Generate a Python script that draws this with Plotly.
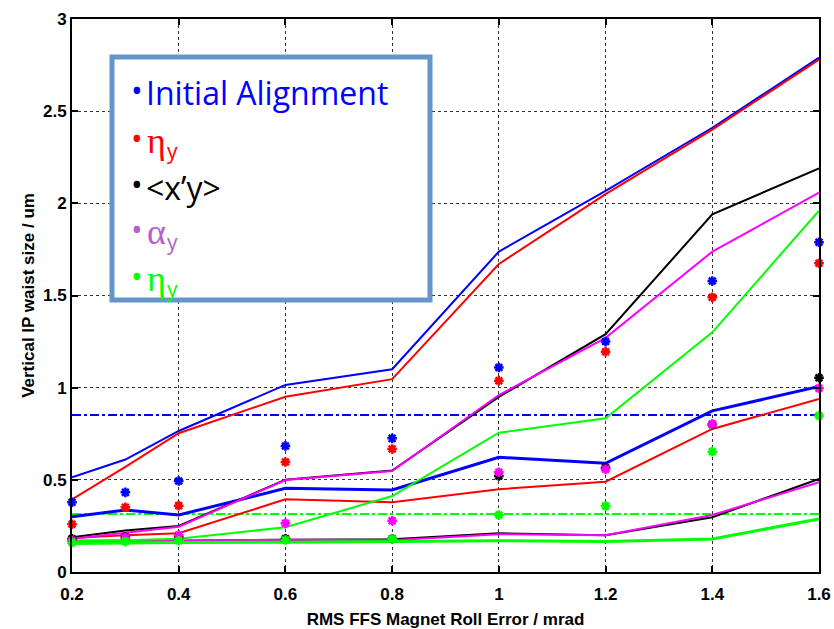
import plotly.graph_objects as go

# RMS roll error of the final-focus magnets (mrad)
roll_err = [0.2, 0.3, 0.4, 0.6, 0.8, 1.0, 1.2, 1.4, 1.6]

# Upper envelope curves
blue_hi = [0.514, 0.61, 0.765, 1.015, 1.10, 1.738, 2.067, 2.41, 2.79]
red_hi = [0.394, 0.57, 0.753, 0.951, 1.046, 1.671, 2.05, 2.40, 2.78]
black_hi = [0.188, 0.225, 0.25, 0.50, 0.55, 0.95, 1.29, 1.94, 2.19]
magenta_hi = [0.18, 0.215, 0.246, 0.499, 0.548, 0.96, 1.27, 1.738, 2.058]
green_hi = [0.17, 0.172, 0.18, 0.243, 0.412, 0.756, 0.834, 1.30, 1.96]

# Middle curves
blue_mid = [0.30, 0.336, 0.309, 0.454, 0.445, 0.622, 0.59, 0.874, 1.006]
red_mid = [0.185, 0.20, 0.21, 0.394, 0.378, 0.449, 0.49, 0.776, 0.939]

# Lower envelope curves
black_lo = [0.17, 0.17, 0.17, 0.175, 0.177, 0.21, 0.20, 0.297, 0.505]
magenta_lo = [0.165, 0.168, 0.168, 0.175, 0.172, 0.205, 0.199, 0.309, 0.487]
green_lo = [0.155, 0.158, 0.16, 0.162, 0.165, 0.17, 0.165, 0.179, 0.288]

# Mean waist sizes (asterisk markers)
blue_pts = [0.378, 0.432, 0.494, 0.684, 0.725, 1.109, 1.25, 1.579, 1.789]
red_pts = [0.259, 0.351, 0.36, 0.597, 0.667, 1.038, 1.195, 1.49, 1.675]
black_pts = [0.18, 0.19, 0.19, 0.18, 0.18, 0.521, 0.566, 0.80, 1.054]
magenta_pts = [0.17, 0.186, 0.20, 0.264, 0.278, 0.541, 0.557, 0.803, 0.997]
green_pts = [0.16, 0.165, 0.17, 0.174, 0.179, 0.309, 0.358, 0.653, 0.848]

# Reference levels (dash-dot)
blue_ref = 0.852
green_ref = 0.315

# Legend entries: (main text, subscript, colour, greek?)
legend_rows = [
    ("Initial Alignment", "", "#0000ff", False),
    ("η", "y", "#ff0000", True),
    ("<x’y>", "", "#000000", False),
    ("α", "y", "#b660cd", True),
    ("η", "y", "#00ff00", True),
]
legend_row_y = [93, 141, 187, 232, 279]

BLUE, RED, BLACK, MAGENTA, GREEN = "#0000ff", "#ff0000", "#000000", "#ff00ff", "#00ff00"

fig = go.Figure()

def add_line(y, color, width):
    fig.add_trace(go.Scatter(x=roll_err, y=y, mode="lines",
                             line=dict(color=color, width=width), showlegend=False))

# Reference levels drawn first
fig.add_trace(go.Scatter(x=[roll_err[0], roll_err[-1]], y=[blue_ref, blue_ref], mode="lines",
                         line=dict(color=BLUE, width=2, dash="dashdot"), showlegend=False))
fig.add_trace(go.Scatter(x=[roll_err[0], roll_err[-1]], y=[green_ref, green_ref], mode="lines",
                         line=dict(color=GREEN, width=2, dash="dashdot"), showlegend=False))

add_line(blue_hi, BLUE, 2)
add_line(blue_mid, BLUE, 3)
add_line(red_hi, RED, 2)
add_line(red_mid, RED, 2)
add_line(black_hi, BLACK, 2)
add_line(black_lo, BLACK, 2)
add_line(magenta_hi, MAGENTA, 2)
add_line(magenta_lo, MAGENTA, 2)
add_line(green_hi, GREEN, 2)
add_line(green_lo, GREEN, 3)

for pts, color in [(blue_pts, BLUE), (red_pts, RED), (black_pts, BLACK),
                   (magenta_pts, MAGENTA), (green_pts, GREEN)]:
    fig.add_trace(go.Scatter(x=roll_err, y=pts, mode="markers", showlegend=False,
                             cliponaxis=False,
                             marker=dict(symbol="asterisk-open", size=8, color=color,
                                         line=dict(color=color, width=2.5))))

axis_font = dict(family="Liberation Sans, Arial, sans-serif", size=17, color="black", weight="bold")
common = dict(showline=True, linecolor="black", linewidth=2, mirror="ticks",
              ticks="inside", ticklen=6, tickwidth=2, tickcolor="black",
              showgrid=True, gridcolor="#333333", griddash="dot", gridwidth=1,
              zeroline=False, tickfont=axis_font, automargin=False)

fig.update_xaxes(range=[0.2, 1.6], tickvals=[0.2, 0.4, 0.6, 0.8, 1.0, 1.2, 1.4, 1.6],
                 ticktext=["0.2", "0.4", "0.6", "0.8", "1", "1.2", "1.4", "1.6"],
                 ticklabelstandoff=6,
                 title=dict(text="RMS FFS Magnet Roll Error / mrad", font=axis_font, standoff=10),
                 **common)
fig.update_yaxes(range=[0, 3], tickvals=[0, 0.5, 1, 1.5, 2, 2.5, 3],
                 ticktext=["0", "0.5", "1", "1.5", "2", "2.5", "3"],
                 title=dict(text="Vertical IP waist size / um", font=axis_font, standoff=4),
                 **common)

W, H = 834, 629
ML, MR, MT, MB = 72, 15, 19, 57
fig.update_layout(width=W, height=H, margin=dict(l=ML, r=MR, t=MT, b=MB, autoexpand=False),
                  plot_bgcolor="white", paper_bgcolor="white")

# Legend box in pixel coordinates converted to paper fractions
def px(x):
    return (x - ML) / (W - ML - MR)

def py(y):
    return 1 - (y - MT) / (H - MT - MB)

fig.add_shape(type="rect", xref="paper", yref="paper",
              x0=px(112), x1=px(430), y0=py(300), y1=py(57),
              line=dict(color="#6595c9", width=5), fillcolor="white", layer="above")

sans = "Open Sans, Lato, sans-serif"
serif = "Liberation Serif, DejaVu Serif, serif"

def note(x, y, text, family, size, color, anchor="left"):
    fig.add_annotation(xref="paper", yref="paper", x=px(x), y=py(y),
                       xanchor=anchor, yanchor="middle", showarrow=False, borderpad=0,
                       text=text, font=dict(family=family, size=size, color=color))

for (main, sub, color, greek), ycen in zip(legend_rows, legend_row_y):
    note(144, ycen - 3, "•", sans, 31, color, anchor="right")
    if greek:
        note(146, ycen, main, serif, 36, color)
        note(166, ycen + 10, sub, sans, 21, color)
    else:
        note(145, ycen, main, sans, 32, color)

fig.write_html("out.html")
